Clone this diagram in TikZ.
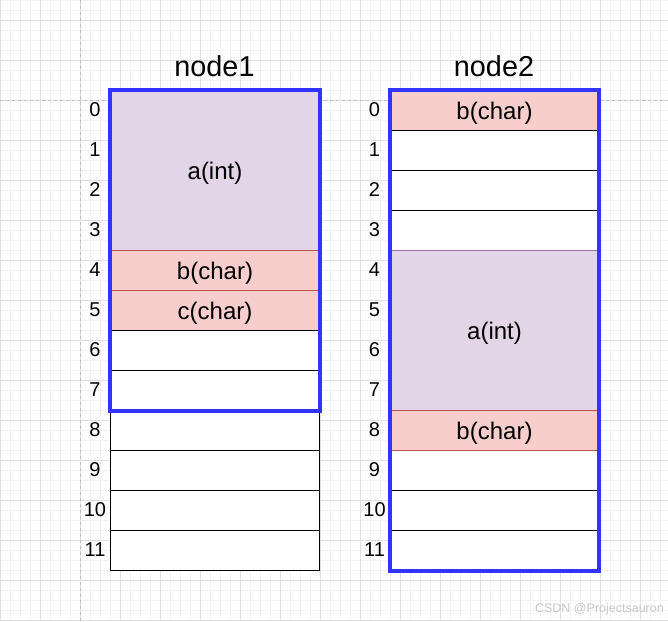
\documentclass[tikz,border=0pt]{standalone}
\usepackage{fontspec}
\setmainfont{Liberation Sans}
\definecolor{blueline}{RGB}{51,51,255}
\definecolor{purfill}{RGB}{225,213,231}
\definecolor{purline}{RGB}{150,115,166}
\definecolor{pinkfill}{RGB}{248,206,204}
\definecolor{pinkline}{RGB}{184,84,80}
\definecolor{gridmajor}{RGB}{224,224,224}
\definecolor{gridminor}{RGB}{243,243,243}
\definecolor{dashgray}{RGB}{190,190,190}
\definecolor{wmark}{RGB}{200,200,200}
\begin{document}
\begin{tikzpicture}[x=1pt,y=-1pt,
  cellbase/.style={rectangle, anchor=north west, inner sep=0pt, line width=1pt,
    font=\fontsize{24}{28}\selectfont, text height=17.2pt, text depth=0pt},
  whitecell/.style={cellbase, draw=black, fill=white},
  pinkcell/.style={cellbase, draw=pinkline, fill=pinkfill, minimum height=40pt},
  purcell/.style={cellbase, draw=purline, fill=purfill, minimum height=160pt},
  wide1/.style={minimum width=209pt},
  wide2/.style={minimum width=208pt},
  onerow/.style={minimum height=40pt},
  rowlbl/.style={font=\fontsize{20}{22}\selectfont, inner sep=0pt},
  title/.style={font=\fontsize{28.8}{32}\selectfont, anchor=base, inner sep=0pt},
  frame/.style={draw=blueline, line width=3.6pt},
  majorgrid/.style={draw=gridmajor, line width=1pt},
  minorgrid/.style={draw=gridminor, line width=1pt},
  dashline/.style={draw=dashgray, line width=1pt, dash pattern=on 3pt off 3pt}
]
\useasboundingbox (0,0) rectangle (668,621);
\fill[white] (0,0) rectangle (668,621);
% grid
\foreach \x in {0,10,...,660} \draw[minorgrid] (\x,0) -- (\x,621);
\foreach \y in {0,10,...,620} \draw[minorgrid] (0,\y) -- (668,\y);
\foreach \x in {0,40,...,640} \draw[majorgrid] (\x,0) -- (\x,621);
\foreach \y in {20,60,...,620} \draw[majorgrid] (0,\y) -- (668,\y);
\coordinate (vtop) at (80,0);
\coordinate (vbot) at (80,621);
\coordinate (hl) at (0,100);
\coordinate (hr) at (668,100);
\draw[dashline] (vtop) -- (vbot);
\draw[dashline] (hl) -- (hr);

% titles
\node[title] (t1) at (214.5,76) {node1};
\node[title] (t2) at (494,76) {node2};

% node1 cells
\node[purcell, wide1] (n1a) at (110,90) {a(int)};
\node[pinkcell, wide1] (n1b) at (110,250) {b(char)};
\node[pinkcell, wide1] (n1c) at (110,290) {c(char)};
\foreach \r in {6,...,11}
  \node[whitecell, wide1, onerow] (n1w\r) at (110,{90+40*\r}) {};

% node2 cells
\node[pinkcell, wide2] (n2b0) at (390,90) {b(char)};
\foreach \r in {1,2,3,9,10,11}
  \node[whitecell, wide2, onerow] (n2w\r) at (390,{90+40*\r}) {};
\node[purcell, wide2] (n2a) at (390,250) {a(int)};
\node[pinkcell, wide2] (n2b8) at (390,410) {b(char)};

% frames
\draw[frame] (n1a.north west) rectangle (n1w7.south east);
\draw[frame] (n2b0.north west) rectangle (n2w11.south east);

% row labels
\foreach \r in {0,...,11} {
  \node[rowlbl] (l1\r) at (95,{110+40*\r}) {\r};
  \node[rowlbl] (l2\r) at (374.5,{110+40*\r}) {\r};
}

% watermark
\node[font=\fontsize{12.5}{14}\selectfont, text=wmark, anchor=base east, inner sep=0pt] (wm) at (664,612) {CSDN @Projectsauron};
\end{tikzpicture}
\end{document}
